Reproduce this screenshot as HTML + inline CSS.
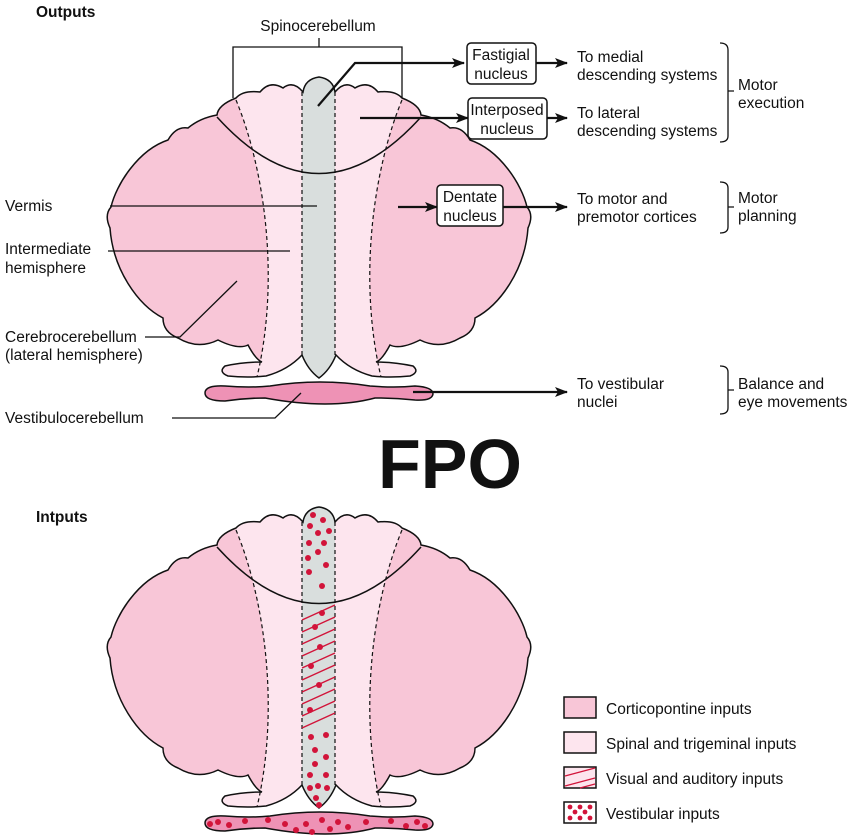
<!DOCTYPE html>
<html><head><meta charset="utf-8"><style>
html,body{margin:0;padding:0;background:#fff;}
svg{display:block;}
text{font-family:"Liberation Sans",Arial,sans-serif;font-size:15.5px;fill:#111;}
</style></head><body>
<svg width="850" height="837" viewBox="0 0 850 837" xmlns="http://www.w3.org/2000/svg">
<defs>
<path id="sil" d="M319,77 Q333,79 335,92 Q345,80 355,88 Q368,80 378,92 Q395,90 402,98 Q420,105 421,115 Q438,118 450,128 Q462,126 470,140 C500,150 522,185 527,207 Q534,215 528,228 C525,270 500,305 475,318 Q475,332 460,338 Q440,350 420,340 Q400,350 390,345 Q382,360 376,362 Q395,362 413,366 Q420,372 410,376 Q390,378 372,376 Q350,370 336,355 Q330,370 319,378 Q308,370 302,355 Q288,370 266,376 Q248,378 228,376 Q218,372 225,366 Q243,362 262,362 Q256,360 248,345 Q238,350 218,340 Q198,350 178,338 Q163,332 163,318 C138,305 113,270 110,228 Q104,215 111,207 C116,185 138,150 168,140 Q176,126 188,128 Q200,118 217,115 Q218,105 236,98 Q243,90 260,92 Q270,80 283,88 Q293,80 303,92 Q305,79 319,77 Z"/>
<clipPath id="cp"><use href="#sil"/></clipPath>
<g id="cb">
<use href="#sil" fill="#f8c6d7"/>
<g clip-path="url(#cp)">
<path d="M236,60 L236,100 C265,170 280,280 257,377 L381,377 C358,280 373,170 402,100 L402,60 Z" fill="#fde5ee"/>
<rect x="200" y="360" width="240" height="30" fill="#fde5ee"/>
<rect x="302" y="60" width="33" height="330" fill="#d9dedd"/>
</g>
<use href="#sil" fill="none" stroke="#111" stroke-width="1.5"/>
<path d="M217,117 Q319,230 421,117" fill="none" stroke="#111" stroke-width="1.5"/>
<g fill="none" stroke="#111" stroke-width="1.2" stroke-dasharray="4,3">
<path d="M236,100 C265,170 280,280 257,377"/>
<path d="M402,100 C373,170 358,280 381,377"/>
<line x1="302" y1="92" x2="302" y2="355"/>
<line x1="335" y1="92" x2="335" y2="355"/>
</g>
<path d="M205,393 Q205,385 225,386 Q250,388 270,386 Q320,378 370,386 Q395,388 415,386 Q433,387 433,394 Q432,401 415,400 Q395,398 375,398 Q330,410 265,398 Q245,398 225,401 Q205,401 205,393 Z" fill="#ee92b5" stroke="#111" stroke-width="1.5"/>
</g>
<marker id="ar" markerWidth="13" markerHeight="10" refX="12" refY="5" orient="auto" markerUnits="userSpaceOnUse"><path d="M0,0 L13,5 L0,10 L3,5 Z" fill="#111"/></marker>
</defs>

<text x="36" y="17" style="font-weight:bold">Outputs</text>
<text x="318" y="31" text-anchor="middle">Spinocerebellum</text>
<path d="M233,98 L233,47 L402,47 L402,98 M319,47 L319,38" fill="none" stroke="#111" stroke-width="1.3"/>

<use href="#cb"/>

<g stroke="#111" stroke-width="2.2" fill="none">
<path d="M318,106 L355,63 L464,63" marker-end="url(#ar)"/>
<path d="M536,63 L567,63" marker-end="url(#ar)"/>
<path d="M360,118 L468,118" marker-end="url(#ar)"/>
<path d="M547,118 L567,118" marker-end="url(#ar)"/>
<path d="M398,207 L437,207" marker-end="url(#ar)"/>
<path d="M503,207 L567,207" marker-end="url(#ar)"/>
<path d="M413,392 L567,392" marker-end="url(#ar)"/>
</g>
<g fill="#fff" stroke="#111" stroke-width="1.5">
<rect x="467" y="43" width="69" height="41" rx="4"/>
<rect x="468" y="98" width="79" height="41" rx="4"/>
<rect x="437" y="185" width="66" height="41" rx="4"/>
</g>
<text x="501" y="60" text-anchor="middle">Fastigial</text><text x="501" y="79" text-anchor="middle">nucleus</text>
<text x="507" y="115" text-anchor="middle">Interposed</text><text x="507" y="134" text-anchor="middle">nucleus</text>
<text x="470" y="202" text-anchor="middle">Dentate</text><text x="470" y="221" text-anchor="middle">nucleus</text>

<text x="577" y="62">To medial</text><text x="577" y="80">descending systems</text>
<text x="577" y="118">To lateral</text><text x="577" y="136">descending systems</text>
<text x="577" y="204">To motor and</text><text x="577" y="222">premotor cortices</text>
<text x="577" y="389">To vestibular</text><text x="577" y="407">nuclei</text>

<g fill="none" stroke="#111" stroke-width="1.3">
<path d="M720,43 Q728,43 728,50 L728,136 Q728,142 720,142 M728,91 L734,91"/>
<path d="M720,182 Q728,182 728,188 L728,227 Q728,233 720,233 M728,207 L734,207"/>
<path d="M720,366 Q728,366 728,372 L728,408 Q728,414 720,414 M728,390 L734,390"/>
</g>
<text x="738" y="90">Motor</text><text x="738" y="108">execution</text>
<text x="738" y="203">Motor</text><text x="738" y="221">planning</text>
<text x="738" y="389">Balance and</text><text x="738" y="407">eye movements</text>

<text x="5" y="211">Vermis</text>
<text x="5" y="254">Intermediate</text><text x="5" y="273">hemisphere</text>
<text x="5" y="342">Cerebrocerebellum</text><text x="5" y="360">(lateral hemisphere)</text>
<text x="5" y="423">Vestibulocerebellum</text>
<g stroke="#111" stroke-width="1.3" fill="none">
<path d="M110,206 L317,206"/>
<path d="M108,251 L290,251"/>
<path d="M145,337 L180,337 L237,281"/>
<path d="M172,418 L275,418 L301,393"/>
</g>

<text x="450" y="488" text-anchor="middle" style="font-size:70px;font-weight:bold">FPO</text>

<text x="36" y="522" style="font-weight:bold">Intputs</text>

<g transform="translate(0,430)">
<use href="#cb"/>
<g fill="#d2143a">
<circle cx="313" cy="85" r="3"/><circle cx="323" cy="90" r="3"/><circle cx="310" cy="96" r="3"/><circle cx="318" cy="103" r="3"/><circle cx="329" cy="101" r="3"/><circle cx="309" cy="113" r="3"/><circle cx="324" cy="113" r="3"/><circle cx="318" cy="122" r="3"/><circle cx="308" cy="128" r="3"/><circle cx="326" cy="135" r="3"/><circle cx="309" cy="142" r="3"/><circle cx="322" cy="156" r="3"/>
<circle cx="322" cy="183" r="3"/><circle cx="315" cy="197" r="3"/><circle cx="320" cy="217" r="3"/><circle cx="311" cy="236" r="3"/><circle cx="319" cy="255" r="3"/><circle cx="310" cy="280" r="3"/>
<circle cx="311" cy="307" r="3"/><circle cx="326" cy="305" r="3"/><circle cx="315" cy="320" r="3"/><circle cx="326" cy="327" r="3"/><circle cx="315" cy="334" r="3"/><circle cx="310" cy="345" r="3"/><circle cx="326" cy="345" r="3"/><circle cx="310" cy="358" r="3"/><circle cx="318" cy="356" r="3"/><circle cx="327" cy="358" r="3"/><circle cx="316" cy="368" r="3"/><circle cx="319" cy="375" r="3"/>
<circle cx="210" cy="394" r="3"/><circle cx="218" cy="392" r="3"/><circle cx="229" cy="395" r="3"/><circle cx="245" cy="391" r="3"/><circle cx="268" cy="390" r="3"/><circle cx="285" cy="394" r="3"/><circle cx="296" cy="400" r="3"/><circle cx="306" cy="394" r="3"/><circle cx="312" cy="402" r="3"/><circle cx="322" cy="390" r="3"/><circle cx="330" cy="399" r="3"/><circle cx="338" cy="392" r="3"/><circle cx="348" cy="397" r="3"/><circle cx="366" cy="392" r="3"/><circle cx="391" cy="391" r="3"/><circle cx="406" cy="396" r="3"/><circle cx="417" cy="392" r="3"/><circle cx="425" cy="396" r="3"/>
</g>
<g stroke="#d2143a" stroke-width="1.4">
<line x1="302" y1="190" x2="335" y2="175"/><line x1="302" y1="202" x2="335" y2="187"/><line x1="302" y1="214" x2="335" y2="199"/><line x1="302" y1="226" x2="335" y2="211"/><line x1="302" y1="238" x2="335" y2="223"/><line x1="302" y1="250" x2="335" y2="235"/><line x1="302" y1="262" x2="335" y2="247"/><line x1="302" y1="274" x2="335" y2="259"/><line x1="302" y1="286" x2="335" y2="271"/><line x1="302" y1="298" x2="335" y2="283"/>
</g>
</g>

<g stroke="#111" stroke-width="1.5">
<rect x="564" y="697" width="32" height="21" fill="#f8c6d7"/>
<rect x="564" y="732" width="32" height="21" fill="#fde5ee"/>
<rect x="564" y="767" width="32" height="21" fill="#fde5ee"/>
<rect x="564" y="802" width="32" height="21" fill="#fff"/>
</g>
<g stroke="#d2143a" stroke-width="1.3"><line x1="565" y1="776" x2="595" y2="768"/><line x1="565" y1="786" x2="595" y2="778"/><line x1="580" y1="788" x2="595" y2="784"/></g>
<g fill="#d2143a"><circle cx="570" cy="807" r="2.4"/><circle cx="580" cy="807" r="2.4"/><circle cx="590" cy="807" r="2.4"/><circle cx="575" cy="812" r="2.4"/><circle cx="585" cy="812" r="2.4"/><circle cx="570" cy="818" r="2.4"/><circle cx="580" cy="818" r="2.4"/><circle cx="590" cy="818" r="2.4"/></g>
<text x="606" y="714">Corticopontine inputs</text>
<text x="606" y="749">Spinal and trigeminal inputs</text>
<text x="606" y="784">Visual and auditory inputs</text>
<text x="606" y="819">Vestibular inputs</text>
</svg>
</body></html>
